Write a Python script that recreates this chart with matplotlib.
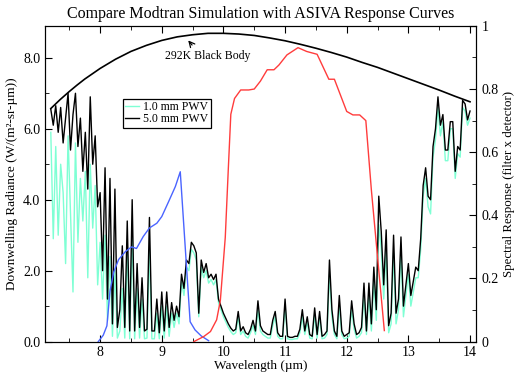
import numpy as np
import matplotlib
matplotlib.use('Agg')
import matplotlib.pyplot as plt
from matplotlib.ticker import MultipleLocator, FuncFormatter

plt.rcParams['font.family'] = ['Liberation Serif', 'DejaVu Serif']

# 292 K black body
wl_bb = [7.2, 7.35, 7.5, 7.625, 7.75, 7.875, 8.0, 8.25, 8.5, 8.75, 9.0, 9.25, 9.5, 9.75,
         10.0, 10.25, 10.5, 10.75, 11.0, 11.25, 11.5, 11.75, 12.0, 12.25, 12.5, 12.75,
         13.0, 13.25, 13.5, 13.75, 14.0]
bb = [6.57, 6.82, 7.05, 7.23, 7.40, 7.55, 7.70, 7.96, 8.18, 8.35, 8.49, 8.59, 8.65, 8.69,
      8.69, 8.67, 8.63, 8.56, 8.48, 8.38, 8.27, 8.15, 8.02, 7.87, 7.73, 7.57,
      7.41, 7.25, 7.09, 6.92, 6.76]

# Modtran spectra, one value every 0.04 um from 7.20 to 14.00
wl_start, wl_step = 7.20, 0.04
pwv5 = [
    6.55, 6.1, 6.65, 5.9, 6.6, 5.6, 6.3, 7.0, 5.4, 6.4,      # 7.20
    7.0, 5.5, 6.3, 4.8, 5.9, 4.3, 6.9, 5.0, 5.8, 3.8,        # 7.60
    4.2, 2.0, 4.9, 1.2, 4.6, 0.5, 4.3, 0.4, 0.9, 2.7,        # 8.00
    0.4, 3.4, 0.3, 4.0, 0.3, 2.2, 0.4, 1.8, 0.3, 0.35,       # 8.40
    3.5, 0.3, 0.3, 1.2, 0.25, 1.4, 0.3, 1.4, 0.4, 1.1,       # 8.80
    0.6, 1.0, 0.7, 1.9, 1.5, 2.3, 2.2, 2.8, 2.7, 2.5,        # 9.20
    0.8, 2.3, 1.95, 2.2, 1.8, 1.9, 1.75, 1.9, 1.2, 1.0,      # 9.60
    0.8, 0.65, 0.5, 0.38, 0.3, 0.35, 0.85, 0.3, 0.42, 0.25,  # 10.00
    0.2, 0.35, 0.6, 0.3, 1.15, 0.45, 0.3, 0.25, 0.2, 0.2,    # 10.40
    0.6, 0.85, 0.25, 0.15, 0.15, 1.2, 0.15, 0.12, 0.12, 0.15,  # 10.80
    0.15, 0.35, 0.9, 0.3, 0.7, 0.2, 0.15, 0.95, 0.2, 0.85,   # 11.20
    0.15, 0.2, 0.3, 2.3, 0.9, 0.3, 0.15, 1.3, 0.3, 0.15,     # 11.60
    0.2, 0.25, 1.15, 0.5, 0.2, 0.25, 0.4, 1.65, 0.3, 1.65,   # 12.00
    0.5, 2.1, 0.9, 4.1, 3.1, 1.6, 3.15, 0.45, 0.8, 3.0,      # 12.40
    0.8, 1.2, 2.95, 1.0, 1.6, 2.2, 1.3, 1.7, 2.1, 2.0,       # 12.80
    2.9, 4.4, 4.9, 4.1, 4.0, 5.5, 6.0, 6.9, 6.1, 6.4,        # 13.20
    5.4, 5.4, 6.2, 6.2, 4.8, 5.5, 5.4, 6.8, 6.7, 6.25,       # 13.60
    6.5,                                                     # 14.00
]
pwv1 = [
    5.9, 2.9, 5.5, 3.0, 5.0, 4.2, 2.2, 5.8, 3.6, 1.4,        # 7.20
    5.6, 2.8, 4.6, 3.4, 4.8, 1.8, 5.0, 3.2, 4.4, 1.6,        # 7.60
    2.8, 1.2, 3.0, 0.6, 2.4, 0.15, 2.0, 0.1, 0.3, 1.5,       # 8.00
    0.1, 2.6, 0.08, 3.0, 0.08, 1.5, 0.1, 1.2, 0.08, 0.1,     # 8.40
    2.6, 0.08, 0.08, 0.8, 0.08, 1.0, 0.1, 1.0, 0.15, 0.8,    # 8.80
    0.4, 0.8, 0.5, 1.7, 1.3, 2.1, 2.0, 2.6, 2.5, 2.3,        # 9.20
    0.7, 2.1, 1.8, 2.0, 1.65, 1.75, 1.6, 1.75, 1.1, 0.9,     # 9.60
    0.7, 0.55, 0.4, 0.28, 0.2, 0.25, 0.7, 0.2, 0.3, 0.15,    # 10.00
    0.1, 0.25, 0.45, 0.2, 0.9, 0.3, 0.2, 0.15, 0.1, 0.1,     # 10.40
    0.45, 0.7, 0.15, 0.08, 0.08, 1.0, 0.08, 0.06, 0.06, 0.08,  # 10.80
    0.08, 0.25, 0.7, 0.2, 0.55, 0.1, 0.08, 0.75, 0.1, 0.7,   # 11.20
    0.08, 0.1, 0.2, 1.9, 0.7, 0.2, 0.08, 1.0, 0.2, 0.08,     # 11.60
    0.1, 0.15, 0.9, 0.35, 0.1, 0.15, 0.25, 1.3, 0.2, 1.3,    # 12.00
    0.3, 1.7, 0.6, 3.3, 2.6, 1.2, 2.6, 0.25, 0.5, 2.5,       # 12.40
    0.5, 0.9, 2.5, 0.7, 1.3, 1.9, 1.0, 1.4, 1.8, 1.8,        # 12.80
    2.6, 4.1, 4.6, 3.8, 3.6, 5.2, 5.7, 6.6, 5.8, 6.2,        # 13.20
    5.1, 5.1, 6.0, 6.0, 4.6, 5.3, 5.2, 6.6, 6.5, 6.1,        # 13.60
    6.3,                                                     # 14.00
]
wl = np.round(wl_start + wl_step * np.arange(len(pwv5)), 2)

# ASIVA filter x detector response curves
wl_blue = [7.97, 8.05, 8.11, 8.16, 8.22, 8.30, 8.41, 8.51, 8.59, 8.70, 8.80, 8.92,
           9.00, 9.11, 9.22, 9.30, 9.46, 9.54, 9.64, 9.76]
resp_blue = [0.0, 0.02, 0.05, 0.16, 0.22, 0.26, 0.285, 0.30, 0.295, 0.333, 0.36, 0.375,
             0.396, 0.443, 0.491, 0.538, 0.063, 0.037, 0.018, 0.003]
wl_red = [9.52, 9.68, 9.79, 9.89, 9.95, 10.03, 10.08, 10.12, 10.18, 10.28, 10.41, 10.50,
          10.60, 10.71, 10.82, 10.90, 11.03, 11.21, 11.35, 11.52, 11.71, 11.80, 12.00,
          12.10, 12.21, 12.31, 12.40, 12.61]
resp_red = [0.0, 0.016, 0.032, 0.069, 0.13, 0.33, 0.55, 0.72, 0.77, 0.797, 0.797, 0.80,
            0.825, 0.861, 0.861, 0.876, 0.908, 0.931, 0.919, 0.910, 0.831, 0.831, 0.729,
            0.718, 0.718, 0.700, 0.48, 0.035]

fig = plt.figure(figsize=(5.19, 3.75), dpi=100)
ax = fig.add_axes([0.086, 0.089, 0.8315, 0.842])
ax2 = ax.twinx()

ax.plot(wl, pwv1, color='#7fffd4', lw=1.0, label='1.0 mm PWV')
ax.plot(wl, pwv5, color='black', lw=1.0, label='5.0 mm PWV')
ax.plot(wl_bb, bb, color='black', lw=1.2)
ax2.plot(wl_blue, resp_blue, color='#4a64ff', lw=1.0)
ax2.plot(wl_red, resp_red, color='#ff3c3c', lw=1.0)

ax.set_xlim(7.1, 14.1)
ax.set_ylim(0, 8.9)
ax2.set_ylim(0, 1)

ax.xaxis.set_major_locator(MultipleLocator(1))
ax.xaxis.set_minor_locator(MultipleLocator(0.5))
ax.yaxis.set_major_locator(MultipleLocator(2))
ax.yaxis.set_minor_locator(MultipleLocator(1))
ax.yaxis.set_major_formatter(FuncFormatter(lambda v, p: f'{v:.1f}'))
ax2.yaxis.set_major_locator(MultipleLocator(0.2))
ax2.yaxis.set_minor_locator(MultipleLocator(0.1))
ax2.yaxis.set_major_formatter(FuncFormatter(lambda v, p: f'{v:g}'))

ax.tick_params(which='both', direction='in', top=True, labelsize=10, pad=3)
ax.tick_params(which='major', length=5)
ax.tick_params(which='minor', length=3)
ax2.tick_params(which='both', direction='in', labelsize=10, pad=4)
ax2.tick_params(which='major', length=5)
ax2.tick_params(which='minor', length=3)

ax.set_xlabel('Wavelength (µm)', fontsize=9.5, labelpad=1)
ax.set_ylabel('Downwelling Radiance (W/(m²-sr-µm))', fontsize=9.5, labelpad=4)
ax2.set_ylabel('Spectral Response (filter x detector)', fontsize=9.3, labelpad=3)
ax.set_title('Compare Modtran Simulation with ASIVA Response Curves', fontsize=11.5, pad=6)

ax.text(9.75, 8.05, '292K Black Body', fontsize=8.5, ha='center', va='center')
ax.annotate('', xy=(9.40, 8.55), xytext=(9.52, 8.30),
            arrowprops=dict(arrowstyle='->', color='black', lw=0.9))

leg = ax.legend(loc='upper left', bbox_to_anchor=(0.181, 0.769), borderaxespad=0,
                fontsize=8.5, handlelength=1.2, handletextpad=0.35, fancybox=False,
                framealpha=1, edgecolor='black', borderpad=0.2, labelspacing=0.0)
leg.get_frame().set_linewidth(0.9)

fig.savefig('out.png', dpi=100)
